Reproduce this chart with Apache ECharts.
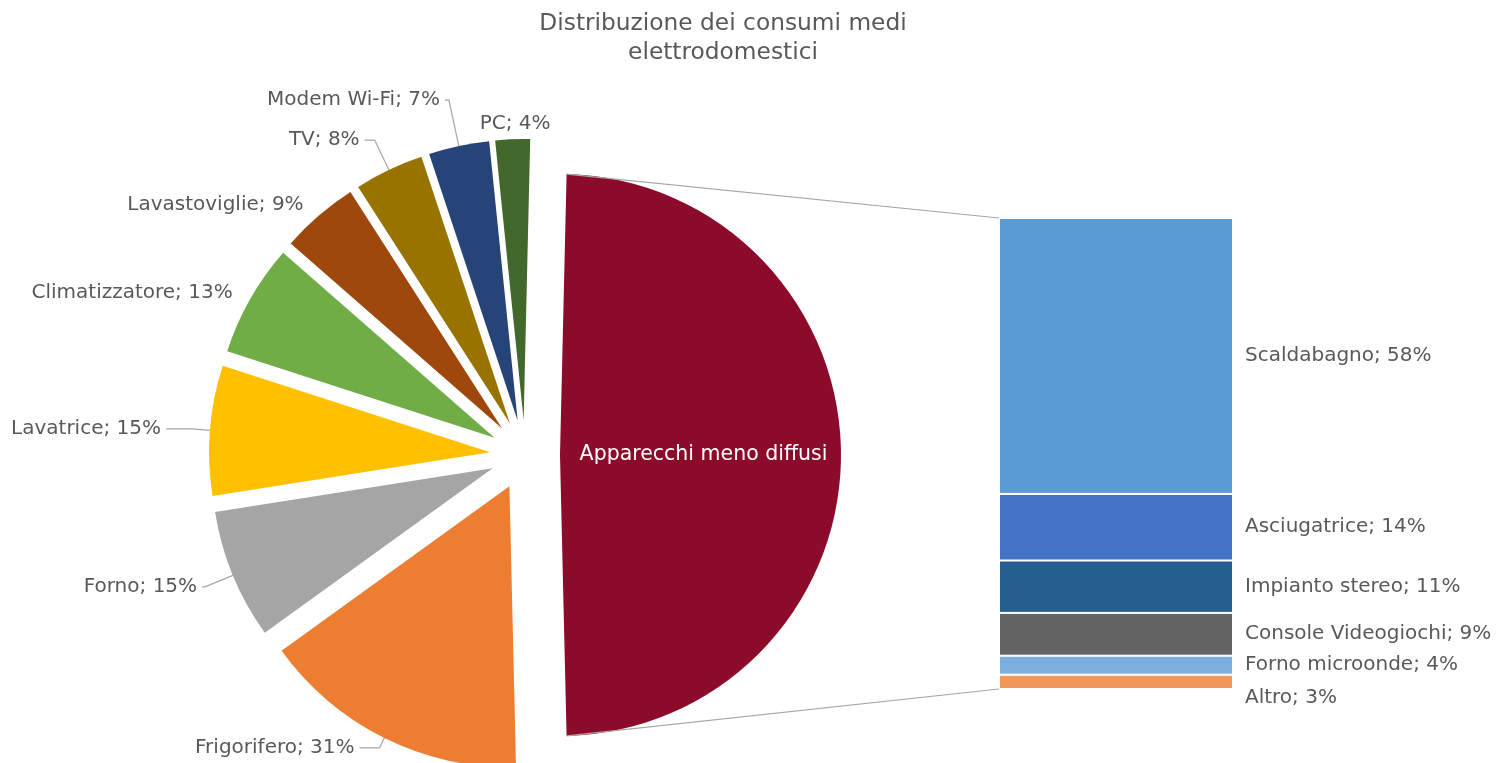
<!DOCTYPE html>
<html><head><meta charset="utf-8">
<script src="https://cdn.jsdelivr.net/npm/echarts@6/dist/echarts.min.js"></script>
<style>html,body{margin:0;padding:0;background:#fff}#c{width:1496px;height:763px}</style>
</head><body><div id="c"></div>
<script>
const titleLines = ['Distribuzione dei consumi medi', 'elettrodomestici'];
const otherName = 'Apparecchi meno diffusi';
const pieNames = ['Frigorifero', 'Forno', 'Lavatrice', 'Climatizzatore', 'Lavastoviglie', 'TV', 'Modem Wi-Fi', 'PC'];
const pieValues = [31, 15, 15, 13, 9, 8, 7, 4];
const barNames = ['Scaldabagno', 'Asciugatrice', 'Impianto stereo', 'Console Videogiochi', 'Forno microonde', 'Altro'];
const barValues = [58, 14, 11, 9, 4, 3];

// styles
const otherColor = '#8C0A2A';
const pieColors = ['#ED7D31', '#A5A5A5', '#FFC000', '#70AD47', '#9E480E', '#997300', '#264478', '#43682B'];
const barColors = ['#5B9BD5', '#4472C4', '#255E91', '#636363', '#7CAFDD', '#F1975A'];
// leader line lengths [length, length2, visible] per pie slice (label placement style)
const leaderStyle = [[11, 20, true], [30, 3, true], [18, 26, true], [12, 2, false], [14, 1, false], [33, 10, true], [47, 4, true], [15, 0, false]];

const FONT = 'DejaVu Sans';
const TXT = '#595959';
const LINE = '#A6A6A6';
const OFFSET = 35;

const otherValue = barValues.reduce((a, b) => a + b, 0);
const total = otherValue + pieValues.reduce((a, b) => a + b, 0);
const otherAngle = 360 * otherValue / total;

const pieData = [{
  name: otherName, value: otherValue, selected: true,
  itemStyle: { color: otherColor },
  label: { position: 'inside', formatter: '{b}', color: '#fff', fontSize: 20.5 }
}].concat(pieNames.map((n, i) => ({
  name: n, value: pieValues[i], selected: true,
  itemStyle: { color: pieColors[i] },
  labelLine: { show: leaderStyle[i][2], length: leaderStyle[i][0], length2: leaderStyle[i][1] }
})));

const series = [{
  type: 'pie',
  center: [525, 455],
  radius: 281,
  startAngle: otherAngle / 2,
  clockwise: true,
  selectedMode: 'multiple',
  selectedOffset: OFFSET,
  avoidLabelOverlap: false,
  silent: true,
  animation: false,
  data: pieData,
  label: {
    show: true, position: 'outside', formatter: '{b}; {c}%',
    color: TXT, fontFamily: FONT, fontSize: 20
  },
  labelLine: { show: true, smooth: false, lineStyle: { color: LINE, width: 1.2 } },
  labelLayout: function (p) {
    // last small slice: label sits centred above its slice
    if (p.dataIndex === pieNames.length) {
      return { dx: p.labelRect.width / 2 + 8 };
    }
    return {};
  },
  emphasis: { disabled: true },
  select: { itemStyle: { borderWidth: 0 } }
}];

barNames.forEach((n, i) => {
  series.push({
    type: 'bar', name: n, stack: 'altro', barWidth: '100%',
    xAxisIndex: 0, yAxisIndex: 0, silent: true, animation: false,
    data: [barValues[i]],
    itemStyle: { color: barColors[i], borderColor: '#fff', borderWidth: 1 },
    label: {
      show: true, position: 'right', distance: 12,
      formatter: () => n + '; ' + barValues[i] + '%',
      color: TXT, fontFamily: FONT, fontSize: 20,
      offset: i === barNames.length - 1 ? [0, 16] : [0, 0]
    }
  });
});

const chart = echarts.init(document.getElementById('c'));
chart.setOption({
  backgroundColor: '#fff',
  animation: false,
  textStyle: { fontFamily: FONT },
  grid: { left: 999, top: 218, width: 234, height: 471 },
  xAxis: { type: 'category', data: [''], show: false },
  yAxis: { type: 'value', min: 0, max: otherValue, inverse: true, show: false },
  graphic: [{
    type: 'text', id: 'title', x: 723, y: 9,
    style: {
      text: titleLines.join('\n'), align: 'center', fill: TXT,
      font: '23.3px "' + FONT + '"', lineHeight: 29
    }
  }],
  series: series
});

function drawConnectors() {
  const model = chart.getModel();
  const pie = model.getSeriesByIndex(0).getData().getItemLayout(0);
  const mid = (pie.startAngle + pie.endAngle) / 2;
  const ox = pie.cx + OFFSET * Math.cos(mid), oy = pie.cy + OFFSET * Math.sin(mid);
  const p1 = [ox + pie.r * Math.cos(pie.startAngle), oy + pie.r * Math.sin(pie.startAngle)];
  const p2 = [ox + pie.r * Math.cos(pie.endAngle), oy + pie.r * Math.sin(pie.endAngle)];
  const topBar = model.getSeriesByIndex(1).getData().getItemLayout(0);
  const botBar = model.getSeriesByIndex(barNames.length).getData().getItemLayout(0);
  const bx = Math.min(topBar.x, topBar.x + topBar.width);
  const by1 = Math.min(topBar.y, topBar.y + topBar.height);
  const by2 = Math.max(botBar.y, botBar.y + botBar.height);
  chart.setOption({
    graphic: [
      { type: 'line', id: 'c1', shape: { x1: p1[0], y1: p1[1], x2: bx, y2: by1 }, style: { stroke: LINE, lineWidth: 1.2 }, z: 10 },
      { type: 'line', id: 'c2', shape: { x1: p2[0], y1: p2[1], x2: bx, y2: by2 }, style: { stroke: LINE, lineWidth: 1.2 }, z: 10 }
    ]
  });
}
drawConnectors();
</script>
</body></html>
